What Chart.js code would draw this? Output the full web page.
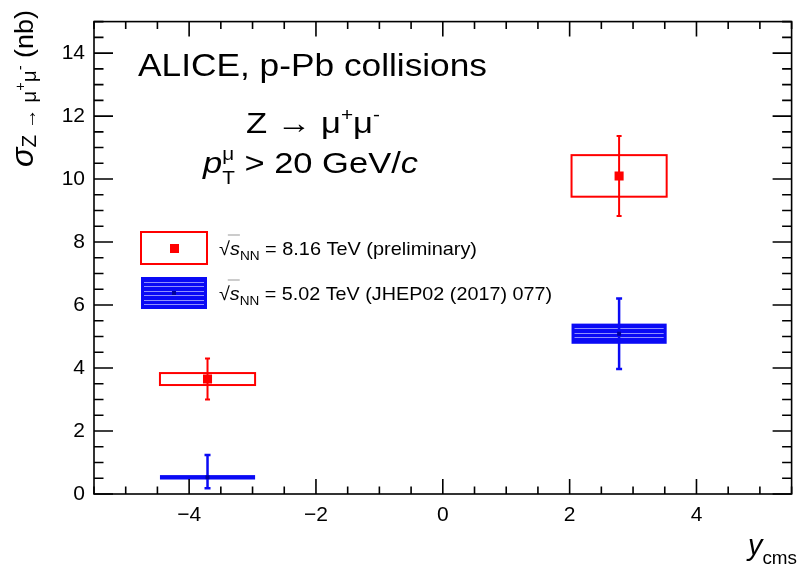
<!DOCTYPE html>
<html>
<head>
<meta charset="utf-8">
<script src="https://cdn.jsdelivr.net/npm/chart.js@4.4.0/dist/chart.umd.min.js"></script>
<style>
  body { margin: 0; background: #fff; }
  #wrap { width: 798px; height: 568px; }
</style>
</head>
<body>
<div id="wrap"><canvas id="zchart" width="798" height="568"></canvas></div>
<script>
// rapidity bins (y_cms)
var binCenter = [-3.71, 2.78];
var binLow = [-4.46, 2.03];
var binHigh = [-2.96, 3.53];

// sqrt(sNN) = 8.16 TeV (preliminary), nb
var sig816 = [3.65, 10.10];
var stat816 = [0.65, 1.27];
var syst816 = [0.19, 0.66];

// sqrt(sNN) = 5.02 TeV (JHEP02 (2017) 077), nb
var sig502 = [0.53, 5.09];
var statUp502 = [0.71, 1.12];
var statDn502 = [0.35, 1.12];
var syst502 = [0.07, 0.32];

// tick labels
var xTicks = [-4, -2, 0, 2, 4];
var yTicks = [0, 2, 4, 6, 8, 10, 12, 14];

var FONT = '"Liberation Sans", Arial, Helvetica, sans-serif';
var RED = '#ff0000';
var BLUE = '#0a0af5';

// draw text made of pieces (sub/superscripts), optionally stretched to a width
function drawRich(ctx, x, y, parts, targetW) {
  var w = 0, i, p, adv, last = 0;
  var widths = [];
  for (i = 0; i < parts.length; i++) {
    p = parts[i];
    ctx.font = p.f;
    adv = ctx.measureText(p.t).width;
    widths.push(adv);
    if (p.stack) {
      w = last + Math.max(adv, w - last);
    } else {
      last = w;
      w += adv;
    }
  }
  var sx = targetW ? targetW / w : 1;
  ctx.save();
  ctx.translate(x, y);
  ctx.scale(sx, 1);
  ctx.textAlign = 'left';
  ctx.textBaseline = 'alphabetic';
  var cx = 0, start = 0;
  for (i = 0; i < parts.length; i++) {
    p = parts[i];
    ctx.font = p.f;
    ctx.fillStyle = p.c || '#000';
    if (p.stack) {
      ctx.fillText(p.t, start, p.dy || 0);
      cx = Math.max(cx, start + widths[i]);
    } else {
      start = cx;
      ctx.fillText(p.t, cx, p.dy || 0);
      cx += widths[i];
    }
    if (p.over) {
      ctx.strokeStyle = '#999';
      ctx.lineWidth = 1;
      ctx.beginPath();
      ctx.moveTo(start - 2, p.over);
      ctx.lineTo(start + widths[i], p.over);
      ctx.stroke();
    }
  }
  ctx.restore();
}

function hatchBox(ctx, x, y, w, h) {
  ctx.fillStyle = BLUE;
  ctx.fillRect(x, y, w, h);
  if (h < 9) return;
  ctx.strokeStyle = 'rgba(190,190,255,0.75)';
  ctx.lineWidth = 1;
  for (var yy = y + 4.5; yy < y + h - 3; yy += 4.5) {
    ctx.beginPath();
    ctx.moveTo(x + 3, Math.round(yy) + 0.5);
    ctx.lineTo(x + w - 3, Math.round(yy) + 0.5);
    ctx.stroke();
  }
}

function errBar(ctx, x, yTop, yBot, color, lw, cap) {
  ctx.strokeStyle = color;
  ctx.lineWidth = lw;
  ctx.beginPath();
  ctx.moveTo(x, yTop);
  ctx.lineTo(x, yBot);
  ctx.moveTo(x - cap, yTop);
  ctx.lineTo(x + cap, yTop);
  ctx.moveTo(x - cap, yBot);
  ctx.lineTo(x + cap, yBot);
  ctx.stroke();
}

var rootStyle = {
  id: 'rootStyle',
  beforeDatasetsDraw: function (chart) {
    var ctx = chart.ctx, xs = chart.scales.x, ys = chart.scales.y;
    ctx.save();
    for (var i = 0; i < binCenter.length; i++) {
      var x0 = xs.getPixelForValue(binLow[i]);
      var x1 = xs.getPixelForValue(binHigh[i]);
      var xc = xs.getPixelForValue(binCenter[i]);

      // 5.02 TeV systematic box (filled)
      var b0 = ys.getPixelForValue(sig502[i] + syst502[i]);
      var b1 = ys.getPixelForValue(sig502[i] - syst502[i]);
      hatchBox(ctx, x0, b0, x1 - x0, b1 - b0);

      // 8.16 TeV systematic box (open)
      var r0 = ys.getPixelForValue(sig816[i] + syst816[i]);
      var r1 = ys.getPixelForValue(sig816[i] - syst816[i]);
      ctx.strokeStyle = RED;
      ctx.lineWidth = 2;
      ctx.strokeRect(x0, r0, x1 - x0, r1 - r0);

      // statistical errors
      errBar(ctx, xc, ys.getPixelForValue(sig502[i] + statUp502[i]),
        ys.getPixelForValue(sig502[i] - statDn502[i]), BLUE, 2.5, 3);
      errBar(ctx, xc, ys.getPixelForValue(sig816[i] + stat816[i]),
        ys.getPixelForValue(sig816[i] - stat816[i]), RED, 2, 2.5);
    }
    ctx.restore();
  },
  afterDraw: function (chart) {
    var ctx = chart.ctx, a = chart.chartArea;
    var xs = chart.scales.x, ys = chart.scales.y;
    ctx.save();

    // frame
    ctx.strokeStyle = '#000';
    ctx.lineWidth = 1.6;
    ctx.strokeRect(a.left, a.top, a.right - a.left, a.bottom - a.top);

    // ticks on all four sides, pointing inwards
    ctx.beginPath();
    var v, px, len;
    for (v = -5.5; v <= 5.5; v += 0.5) {
      px = xs.getPixelForValue(v);
      len = (v % 2 === 0) ? 15 : 7.5;
      ctx.moveTo(px, a.bottom); ctx.lineTo(px, a.bottom - len);
      ctx.moveTo(px, a.top); ctx.lineTo(px, a.top + len);
    }
    for (v = 0; v <= 15; v += 0.5) {
      px = ys.getPixelForValue(v);
      len = (v % 2 === 0) ? 19 : 9.5;
      ctx.moveTo(a.left, px); ctx.lineTo(a.left + len, px);
      ctx.moveTo(a.right, px); ctx.lineTo(a.right - len, px);
    }
    ctx.stroke();

    // legend
    ctx.strokeStyle = RED;
    ctx.lineWidth = 2;
    ctx.strokeRect(141, 232, 66, 32);
    ctx.fillStyle = RED;
    ctx.fillRect(170, 244, 9, 9);
    hatchBox(ctx, 141, 277, 66, 32);
    ctx.fillStyle = '#0000a0';
    ctx.fillRect(172, 291, 4, 4);

    var lf = '19px ' + FONT;
    drawRich(ctx, 219, 255, [
      { t: '\u221A', f: '19px ' + FONT },
      { t: 's', f: 'italic 19px ' + FONT, over: -20 },
      { t: 'NN', f: '13px ' + FONT, dy: 5 },
      { t: ' = 8.16 TeV (preliminary)', f: lf }
    ], 258);
    drawRich(ctx, 219, 300, [
      { t: '\u221A', f: '19px ' + FONT },
      { t: 's', f: 'italic 19px ' + FONT, over: -20 },
      { t: 'NN', f: '13px ' + FONT, dy: 5 },
      { t: ' = 5.02 TeV (JHEP02 (2017) 077)', f: lf }
    ], 333);

    // annotations
    drawRich(ctx, 138, 76, [{ t: 'ALICE, p-Pb collisions', f: '32px ' + FONT }], 349);
    drawRich(ctx, 246, 133, [
      { t: 'Z \u2192 \u03BC', f: '30px ' + FONT },
      { t: '+', f: '18px ' + FONT, dy: -12 },
      { t: '\u03BC', f: '30px ' + FONT },
      { t: '-', f: '18px ' + FONT, dy: -12 }
    ], 134);
    drawRich(ctx, 203, 173, [
      { t: 'p', f: 'italic 30px ' + FONT },
      { t: '\u03BC', f: '18px ' + FONT, dy: -13 },
      { t: 'T', f: '18px ' + FONT, dy: 11, stack: true },
      { t: ' > 20 GeV/', f: '30px ' + FONT },
      { t: 'c', f: 'italic 30px ' + FONT }
    ], 215);

    // x axis title
    drawRich(ctx, 748, 555, [
      { t: 'y', f: 'italic 29px ' + FONT },
      { t: 'cms', f: '19px ' + FONT, dy: 9 }
    ], 49);

    // y axis title (rotated)
    ctx.save();
    ctx.translate(33, 167);
    ctx.rotate(-Math.PI / 2);
    drawRich(ctx, 0, 0, [
      { t: '\u03C3', f: 'italic 31px ' + FONT },
      { t: 'Z \u2192 \u03BC', f: '20px ' + FONT, dy: 3 },
      { t: '+', f: '14px ' + FONT, dy: -8 },
      { t: '\u03BC', f: '20px ' + FONT, dy: 3 },
      { t: '-', f: '14px ' + FONT, dy: -8 },
      { t: ' (nb)', f: '26px ' + FONT }
    ], 157);
    ctx.restore();

    ctx.restore();
  }
};

function fmtTick(v) {
  return v < 0 ? '\u2212' + Math.abs(v) : String(v);
}

new Chart(document.getElementById('zchart'), {
  type: 'scatter',
  data: {
    datasets: [{
      label: '8.16 TeV (preliminary)',
      data: binCenter.map(function (x, i) { return { x: x, y: sig816[i] }; }),
      pointStyle: 'rect',
      pointRadius: 6.4,
      backgroundColor: RED,
      borderWidth: 0
    }, {
      label: '5.02 TeV (JHEP02 (2017) 077)',
      data: binCenter.map(function (x, i) { return { x: x, y: sig502[i] }; }),
      pointStyle: 'rect',
      pointRadius: 2.8,
      backgroundColor: '#0000a0',
      borderWidth: 0
    }]
  },
  options: {
    responsive: false,
    animation: false,
    devicePixelRatio: 1,
    layout: { padding: { left: 0, right: 1, top: 10, bottom: 0 } },
    plugins: {
      legend: { display: false },
      tooltip: { enabled: false }
    },
    scales: {
      x: {
        type: 'linear',
        min: -5.5,
        max: 5.5,
        border: { display: false },
        grid: { display: false, drawTicks: false },
        afterBuildTicks: function (s) { s.ticks = xTicks.map(function (v) { return { value: v }; }); },
        afterFit: function (s) { s.height = 74; },
        ticks: {
          font: { family: FONT, size: 21 },
          color: '#000',
          padding: 9,
          maxRotation: 0,
          autoSkip: false,
          callback: fmtTick
        }
      },
      y: {
        type: 'linear',
        min: 0,
        max: 15,
        border: { display: false },
        grid: { display: false, drawTicks: false },
        afterBuildTicks: function (s) { s.ticks = yTicks.map(function (v) { return { value: v }; }); },
        afterFit: function (s) { s.width = 94; },
        ticks: {
          font: { family: FONT, size: 21 },
          color: '#000',
          padding: 9,
          autoSkip: false,
          callback: fmtTick
        }
      }
    }
  },
  plugins: [rootStyle]
});
</script>
</body>
</html>
